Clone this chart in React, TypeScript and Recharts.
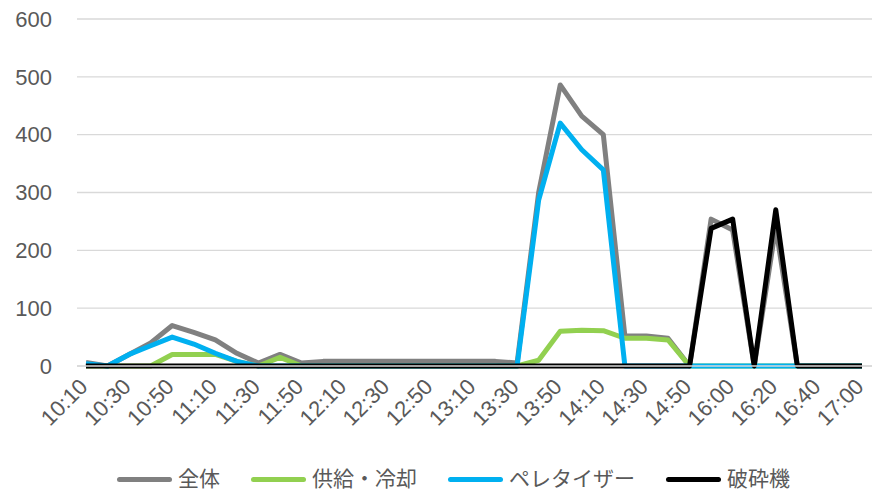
import React from 'react';
import { LineChart, Line, XAxis, YAxis, CartesianGrid, Legend } from 'recharts';

const times = [
  '10:10', '10:20', '10:30', '10:40', '10:50', '11:00', '11:10', '11:20', '11:30', '11:40',
  '11:50', '12:00', '12:10', '12:20', '12:30', '12:40', '12:50', '13:00', '13:10', '13:20',
  '13:30', '13:40', '13:50', '14:00', '14:10', '14:20', '14:30', '14:40', '14:50', '15:50',
  '16:00', '16:10', '16:20', '16:30', '16:40', '16:50', '17:00',
];

const total = [
  6, 0, 20, 40, 70, 58, 45, 22, 5, 20,
  5, 8, 8, 8, 8, 8, 8, 8, 8, 8,
  5, 300, 486, 432, 400, 52, 52, 48, 0, 254,
  235, 0, 240, 0, 0, 0, 0,
];
const supplyCooling = [
  0, 0, 0, 0, 20, 20, 20, 8, 0, 15,
  0, 0, 0, 0, 0, 0, 0, 0, 0, 0,
  0, 10, 60, 62, 61, 48, 48, 45, 0, 0,
  0, 0, 0, 0, 0, 0, 0,
];
const pelletizer = [
  4, 0, 20, 35, 50, 38, 22, 8, 0, 0,
  0, 0, 0, 0, 0, 0, 0, 0, 0, 0,
  0, 287, 420, 374, 339, 0, 0, 0, 0, 0,
  0, 0, 0, 0, 0, 0, 0,
];
const crusher = [
  0, 0, 0, 0, 0, 0, 0, 0, 0, 0,
  0, 0, 0, 0, 0, 0, 0, 0, 0, 0,
  0, 0, 0, 0, 0, 0, 0, 0, 0, 238,
  254, 0, 270, 0, 0, 0, 0,
];
const yTicks = [0, 100, 200, 300, 400, 500, 600];

const FONT = '"Liberation Sans", Arial, "Noto Sans CJK JP", sans-serif';
const TEXT = '#595959';

const series = [
  { key: 'total', name: '全体', color: '#808080' },
  { key: 'supply', name: '供給・冷却', color: '#92D050' },
  { key: 'pellet', name: 'ペレタイザー', color: '#00B0F0' },
  { key: 'crusher', name: '破砕機', color: '#000000' },
];

const data = times.map((t, i) => ({
  time: t,
  total: total[i],
  supply: supplyCooling[i],
  pellet: pelletizer[i],
  crusher: crusher[i],
}));

function XTick(props: any) {
  const { x, y, payload } = props;
  return (
    <g transform={`translate(${x + 3},${y + 14})`}>
      <text textAnchor="end" transform="rotate(-45)" fontSize={22} fill={TEXT} fontFamily={FONT}>
        {payload.value}
      </text>
    </g>
  );
}

function LegendContent() {
  return (
    <div style={{ display: 'flex', alignItems: 'center', paddingLeft: 117, height: 28, fontFamily: FONT }}>
      {series.map(s => (
        <div key={s.key} style={{ display: 'flex', alignItems: 'center', marginRight: 31 }}>
          <span style={{ display: 'inline-block', width: 55, height: 5, borderRadius: 3, background: s.color, marginRight: 6 }} />
          <span style={{ fontSize: 21, color: TEXT, lineHeight: '28px' }}>{s.name}</span>
        </div>
      ))}
    </div>
  );
}

export default function App() {
  return (
    <div style={{ width: 880, height: 493, background: '#fff' }}>
      <style>{'body{margin:0}'}</style>
      <LineChart width={880} height={493} data={data} margin={{ top: 19, right: 8, left: 0, bottom: 0 }}>
        <CartesianGrid horizontal vertical={false} stroke="#D9D9D9" strokeWidth={1.3} />
        <XAxis
          dataKey="time"
          interval={1}
          padding={{ left: 9, right: 10 }}
          axisLine={{ stroke: '#D9D9D9', strokeWidth: 1.3 }}
          tickLine={false}
          tick={<XTick />}
          height={99}
        />
        <YAxis
          domain={[0, 600]}
          ticks={yTicks}
          width={77}
          axisLine={false}
          tickLine={false}
          tickMargin={19}
          tick={{ fontSize: 22, fill: TEXT, fontFamily: FONT }}
        />
        <Legend verticalAlign="bottom" content={<LegendContent />} wrapperStyle={{ left: 0, width: 880 }} />
        <Line dataKey="total" name="全体" stroke="#808080" strokeWidth={5} dot={false} strokeLinejoin="round" isAnimationActive={false} />
        <Line dataKey="supply" name="供給・冷却" stroke="#92D050" strokeWidth={5} dot={false} strokeLinejoin="round" isAnimationActive={false} />
        <Line dataKey="pellet" name="ペレタイザー" stroke="#00B0F0" strokeWidth={5} dot={false} strokeLinejoin="round" isAnimationActive={false} />
        <Line dataKey="crusher" name="破砕機" stroke="#000000" strokeWidth={5} dot={false} strokeLinejoin="round" isAnimationActive={false} />
      </LineChart>
    </div>
  );
}
